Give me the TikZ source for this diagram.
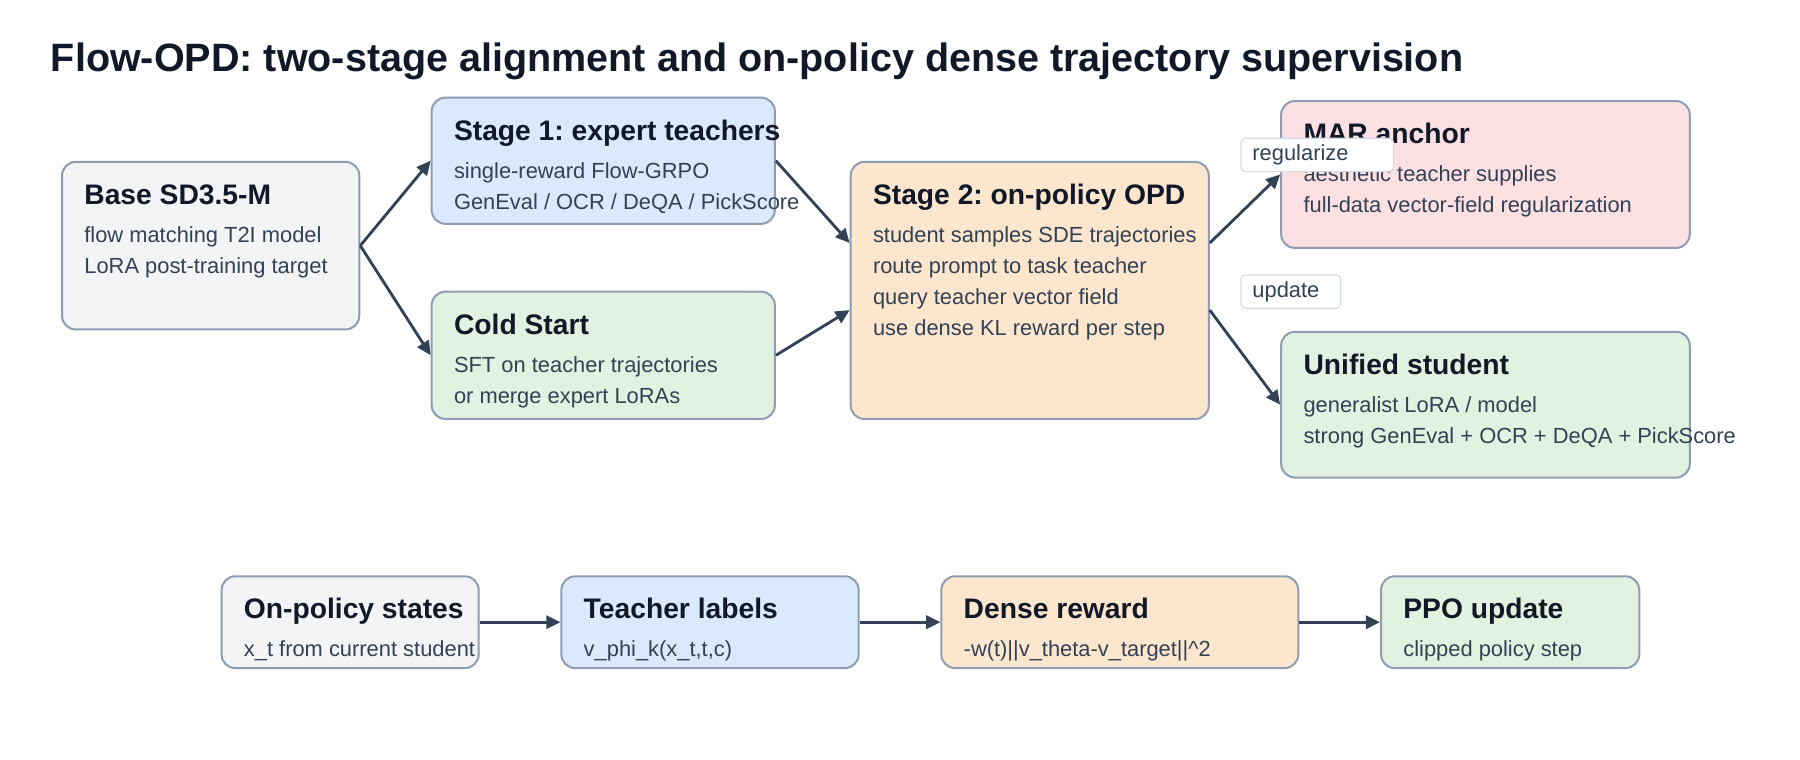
\documentclass[tikz,border=0pt]{standalone}
\usepackage{fontspec}
\setmainfont{Liberation Sans}
\usepackage{xcolor}
\usepackage{tikz}
\usetikzlibrary{arrows.meta,calc}
\frenchspacing

\definecolor{inkdark}{HTML}{111827}
\definecolor{inkbody}{HTML}{334155}
\definecolor{edgegray}{HTML}{8E9DB4}
\definecolor{fillgray}{HTML}{F2F4F6}
\definecolor{fillblue}{HTML}{DBE9FC}
\definecolor{fillgreen}{HTML}{E2F2E0}
\definecolor{fillorange}{HTML}{FDE6CE}
\definecolor{fillpink}{HTML}{FDE0E2}
\definecolor{tagedge}{HTML}{D5DCE5}

\begin{document}
\begin{tikzpicture}[
    x=0.02cm, y=-0.02cm,
    card/.style={rectangle, draw=edgegray, line width=1pt, rounded corners=0.24cm},
    head/.style={anchor=base west, inner sep=0pt, text=inkdark, font=\fontsize{14}{16}\selectfont\bfseries},
    body/.style={anchor=base west, inner sep=0pt, align=left, text=inkbody, font=\fontsize{10.85}{15.4}\selectfont},
    tag/.style={rectangle, draw=tagedge, fill=white, line width=0.6pt, rounded corners=0.08cm, align=left,
                inner xsep=0.2cm, inner ysep=0pt, minimum height=0.58cm, text=inkbody, font=\fontsize{10.85}{13}\selectfont},
    arrow/.style={-{Triangle[length=7pt,width=6.5pt]}, line width=1.4pt, draw=inkbody},
    title/.style={anchor=base west, inner sep=0pt, text=inkdark, font=\fontsize{19.6}{23}\selectfont\bfseries}
]
    \useasboundingbox (0,0) rectangle (1568,662);

    % Title
    \node[title] (title) at (44,62) {Flow-OPD: two-stage alignment and on-policy dense trajectory supervision};

    % Upper pipeline
    \node[card, fill=fillgray, minimum width=5.18cm, minimum height=2.92cm] (base) at (183.5,214) {};
    \node[card, fill=fillblue, minimum width=5.98cm, minimum height=2.20cm] (teachers) at (525.5,140) {};
    \node[card, fill=fillgreen, minimum width=5.98cm, minimum height=2.22cm] (cold) at (525.5,309.5) {};
    \node[card, fill=fillorange, minimum width=6.24cm, minimum height=4.48cm] (opd) at (897,253) {};
    \node[card, fill=fillpink, minimum width=7.12cm, minimum height=2.56cm] (anchor) at (1294,152) {};
    \node[card, fill=fillgreen, minimum width=7.12cm, minimum height=2.54cm] (student) at (1294,352.5) {};

    % (body nodes sit on the baseline of their last line)
    \node[head] (baseh) at ([shift={(20,38)}]base.north west) {Base SD3.5-M};
    \node[body] (baseb) at ([shift={(20,98)}]base.north west) {flow matching T2I model\\LoRA post-training target};
    \node[head] (teachersh) at ([shift={(20,38)}]teachers.north west) {Stage 1: expert teachers};
    \node[body] (teachersb) at ([shift={(20,98)}]teachers.north west) {single-reward Flow-GRPO\\GenEval / OCR / DeQA / PickScore};
    \node[head] (coldh) at ([shift={(20,38)}]cold.north west) {Cold Start};
    \node[body] (coldb) at ([shift={(20,98)}]cold.north west) {SFT on teacher trajectories\\or merge expert LoRAs};
    \node[head] (opdh) at ([shift={(20,38)}]opd.north west) {Stage 2: on-policy OPD};
    \node[body] (opdb) at ([shift={(20,152)}]opd.north west) {student samples SDE trajectories\\route prompt to task teacher\\query teacher vector field\\use dense KL reward per step};
    \node[head] (anchorh) at ([shift={(20,38)}]anchor.north west) {MAR anchor};
    \node[body] (anchorb) at ([shift={(20,98)}]anchor.north west) {aesthetic teacher supplies\\full-data vector-field regularization};
    \node[head] (studenth) at ([shift={(20,38)}]student.north west) {Unified student};
    \node[body] (studentb) at ([shift={(20,98)}]student.north west) {generalist LoRA / model\\strong GenEval + OCR + DeQA + PickScore};

    % Upper arrows
    \coordinate (opdin1) at ($(opd.north west)!0.317!(opd.south west)$);
    \coordinate (opdin2) at ($(opd.north west)!0.576!(opd.south west)$);
    \coordinate (opdout1) at ($(opd.north east)!0.317!(opd.south east)$);
    \coordinate (opdout2) at ($(opd.north east)!0.576!(opd.south east)$);
    \draw[arrow] (base.east) -- (teachers.west);
    \draw[arrow] (base.east) -- (cold.west);
    \draw[arrow] (teachers.east) -- (opdin1);
    \draw[arrow] (cold.east) -- (opdin2);
    \draw[arrow] (opdout1) -- (anchor.west);
    \draw[arrow] (opdout2) -- (student.west);

    % Edge tags
    \node[tag, text width=2.26cm] (regtag) at (1147.5,135) {regularize};
    \node[tag, text width=1.34cm] (updtag) at (1124.5,254) {update};

    % Lower loop
    \node[card, fill=fillgray, minimum width=4.48cm, minimum height=1.6cm] (states) at (305,542) {};
    \node[card, fill=fillblue, minimum width=5.18cm, minimum height=1.6cm] (labels) at (618.5,542) {};
    \node[card, fill=fillorange, minimum width=6.22cm, minimum height=1.6cm] (reward) at (975.5,542) {};
    \node[card, fill=fillgreen, minimum width=4.5cm, minimum height=1.6cm] (ppo) at (1315.5,542) {};

    \node[head] (statesh) at ([shift={(20,38)}]states.north west) {On-policy states};
    \node[body] (statesb) at ([shift={(20,71)}]states.north west) {x\_t from current student};
    \node[head] (labelsh) at ([shift={(20,38)}]labels.north west) {Teacher labels};
    \node[body] (labelsb) at ([shift={(20,71)}]labels.north west) {v\_phi\_k(x\_t,t,c)};
    \node[head] (rewardh) at ([shift={(20,38)}]reward.north west) {Dense reward};
    \node[body] (rewardb) at ([shift={(20,71)}]reward.north west) {-w(t)||v\_theta-v\_target||\^{}2};
    \node[head] (ppoh) at ([shift={(20,38)}]ppo.north west) {PPO update};
    \node[body] (ppob) at ([shift={(20,71)}]ppo.north west) {clipped policy step};

    \draw[arrow] (states) -- (labels);
    \draw[arrow] (labels) -- (reward);
    \draw[arrow] (reward) -- (ppo);
\end{tikzpicture}
\end{document}
